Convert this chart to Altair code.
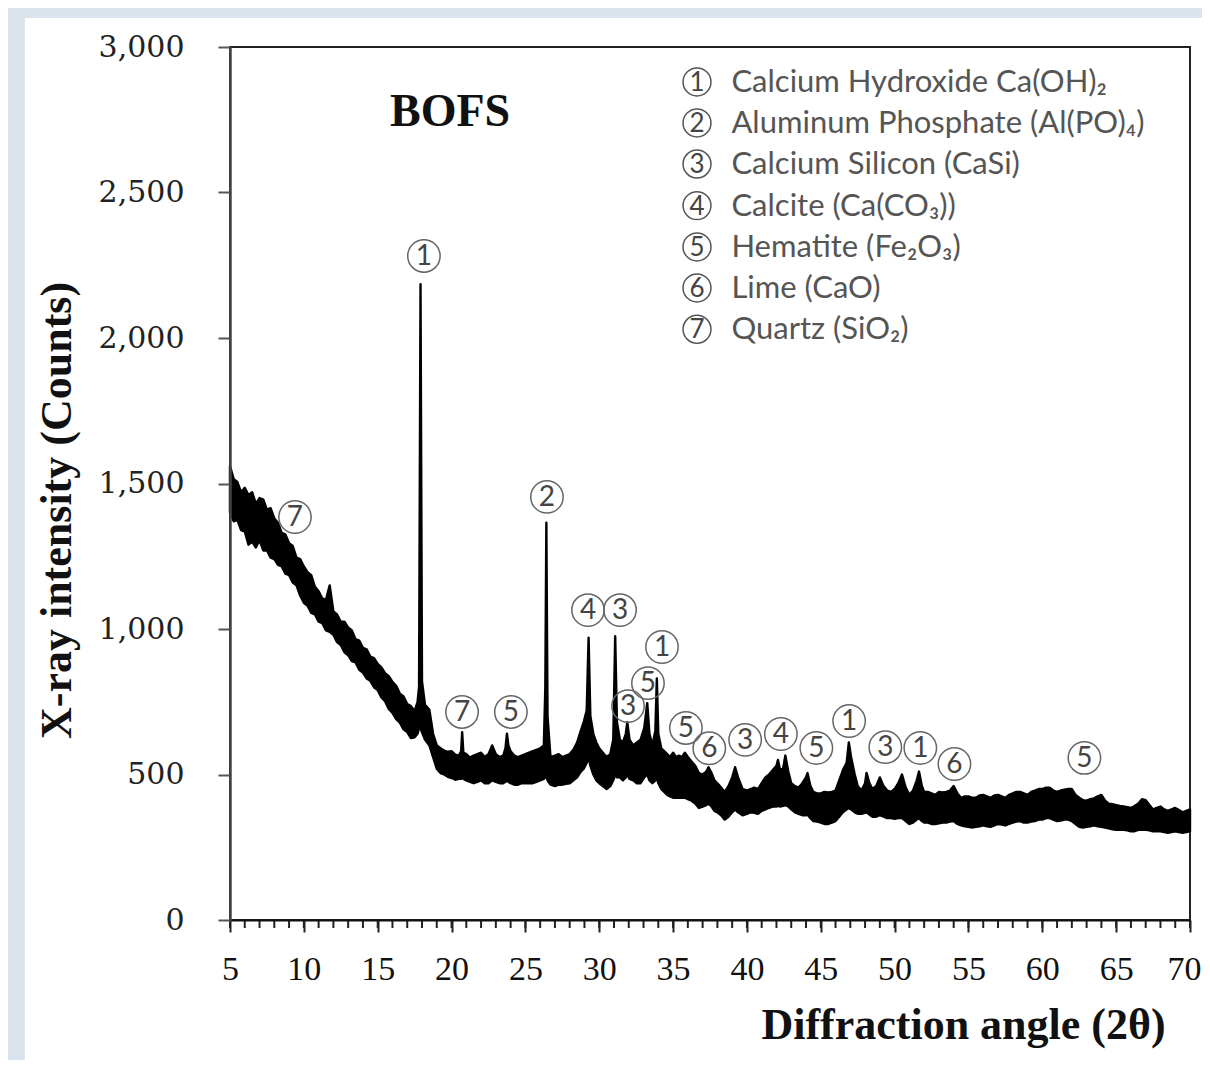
import altair as alt
import pandas as pd

# ---------------- spectrum (lower and upper edge of the noisy trace) ----------------
ANGLE = [
    5.00, 5.25, 5.50, 5.75, 6.00, 6.25, 6.50, 6.75, 7.00, 7.25, 7.50, 7.75, 8.00, 8.25, 8.50, 8.75, 9.00, 9.25, 9.50, 9.75,
    10.00, 10.25, 10.50, 10.75, 11.00, 11.25, 11.50, 11.75, 12.00, 12.25, 12.50, 12.75, 13.00, 13.25, 13.50, 13.75, 14.00, 14.25, 14.50, 14.75,
    15.00, 15.25, 15.50, 15.75, 16.00, 16.25, 16.50, 16.75, 17.00, 17.25, 17.50, 17.70, 17.80, 17.90, 18.00, 18.20, 18.50, 18.75, 19.00, 19.25, 19.50, 19.75,
    20.00, 20.25, 20.50, 20.65, 20.72, 20.80, 21.00, 21.25, 21.50, 21.75, 22.00, 22.25, 22.50, 22.75, 23.00, 23.25, 23.50, 23.65, 23.75, 23.85, 24.00, 24.25, 24.50, 24.75,
    25.00, 25.25, 25.50, 25.75, 26.00, 26.25, 26.35, 26.42, 26.50, 26.70, 27.00, 27.25, 27.50, 27.75, 28.00, 28.25, 28.50, 28.75, 28.95, 29.15, 29.28, 29.40, 29.60, 29.80,
    30.00, 30.25, 30.50, 30.75, 30.95, 31.08, 31.20, 31.40, 31.60, 31.80, 31.90, 32.05, 32.30, 32.55, 32.80, 33.05, 33.25, 33.40, 33.60, 33.80, 33.90, 34.00, 34.20, 34.40, 34.60, 34.80,
    35.00, 35.20, 35.40, 35.60, 35.80, 36.00, 36.25, 36.50, 36.75, 37.00, 37.25, 37.40, 37.60, 37.80, 38.00, 38.25, 38.50, 38.75, 39.00, 39.20, 39.40, 39.70,
    40.00, 40.25, 40.50, 40.75, 41.00, 41.25, 41.50, 41.75, 42.00, 42.10, 42.25, 42.45, 42.60, 42.80, 43.00, 43.25, 43.50, 43.75, 44.00, 44.10, 44.30, 44.50, 44.75,
    45.00, 45.25, 45.50, 45.75, 46.00, 46.25, 46.50, 46.75, 46.90, 47.05, 47.30, 47.50, 47.75, 48.00, 48.10, 48.30, 48.50, 48.75, 49.00, 49.25, 49.50, 49.75,
    50.00, 50.25, 50.50, 50.75, 51.00, 51.25, 51.50, 51.65, 51.85, 52.00, 52.25, 52.50, 52.75, 53.00, 53.25, 53.50, 53.75, 54.00, 54.25, 54.50, 54.75,
    55.00, 55.25, 55.50, 55.75, 56.00, 56.25, 56.50, 56.75, 57.00, 57.25, 57.50, 57.75, 58.00, 58.25, 58.50, 58.75, 59.00, 59.25, 59.50, 59.75,
    60.00, 60.25, 60.50, 60.75, 61.00, 61.25, 61.50, 61.75, 62.00, 62.25, 62.50, 62.75, 63.00, 63.25, 63.50, 63.75, 64.00, 64.25, 64.50, 64.75,
    65.00, 65.25, 65.50, 65.75, 66.00, 66.25, 66.50, 66.75, 67.00, 67.25, 67.50, 67.75, 68.00, 68.25, 68.50, 68.75, 69.00, 69.25, 69.50, 69.75, 70.00,
]
LOW = [
    1400, 1370, 1375, 1340, 1335, 1290, 1300, 1280, 1305, 1270, 1270, 1245, 1240, 1220, 1215, 1190, 1185, 1160, 1150, 1115,
    1090, 1080, 1055, 1050, 1025, 1020, 995, 990, 980, 955, 945, 920, 910, 890, 885, 860, 850, 830, 822, 800,
    790, 765, 752, 725, 712, 690, 678, 655, 646, 625, 628, 640, 660, 660, 645, 620, 600, 560, 520, 505, 500, 492,
    488, 482, 485, 485, 490, 485, 480, 475, 470, 475, 480, 470, 470, 480, 475, 470, 470, 475, 480, 475, 470, 465, 465, 470,
    470, 470, 470, 475, 480, 485, 490, 500, 480, 465, 460, 465, 465, 468, 470, 480, 490, 510, 520, 540, 560, 530, 500, 480,
    470, 460, 450, 460, 480, 500, 490, 490, 480, 490, 500, 485, 480, 470, 470, 490, 500, 480, 470, 480, 490, 470, 450, 440, 430, 425,
    420, 420, 420, 420, 420, 415, 410, 400, 385, 390, 395, 400, 390, 375, 370, 360, 345, 355, 370, 380, 370, 360,
    365, 370, 368, 365, 375, 380, 385, 390, 390, 392, 390, 392, 395, 390, 380, 370, 365, 360, 360, 362, 350, 340, 338,
    335, 330, 330, 335, 340, 355, 370, 380, 385, 380, 370, 365, 365, 368, 370, 362, 355, 355, 360, 355, 350, 350,
    348, 350, 350, 340, 330, 335, 345, 350, 340, 335, 335, 330, 330, 332, 335, 335, 338, 340, 330, 325, 322,
    320, 318, 320, 322, 325, 322, 320, 325, 330, 328, 325, 330, 335, 338, 340, 335, 335, 338, 340, 345,
    345, 350, 350, 345, 340, 342, 345, 345, 340, 330, 320, 318, 320, 322, 325, 322, 320, 318, 315, 312,
    310, 310, 310, 308, 305, 305, 310, 310, 310, 308, 305, 305, 305, 302, 300, 302, 305, 302, 300, 302, 305,
]
HIGH = [
    1560, 1515, 1505, 1470, 1485, 1460, 1470, 1430, 1450, 1445, 1410, 1415, 1380, 1365, 1330, 1325, 1295, 1285, 1245, 1240,
    1215, 1195, 1185, 1145, 1130, 1105, 1100, 1150, 1060, 1050, 1025, 1025, 1005, 995, 965, 960, 935, 930, 905, 900,
    880, 868, 848, 838, 818, 805, 778, 768, 742, 735, 718, 750, 800, 2185, 820, 740, 722, 640, 600, 590, 582, 578,
    580, 568, 565, 580, 645, 575, 570, 558, 565, 570, 575, 560, 570, 600, 570, 560, 565, 590, 640, 600, 580, 565, 560, 565,
    570, 575, 580, 585, 590, 600, 800, 1365, 700, 560, 565, 570, 560, 565, 570, 585, 610, 650, 680, 720, 970, 700, 640, 610,
    590, 575, 560, 570, 620, 975, 680, 620, 610, 640, 680, 620, 600, 610, 620, 660, 745, 640, 600, 650, 830, 640, 590, 580, 570, 560,
    575, 560, 565, 560, 575, 560, 545, 530, 505, 500, 510, 525, 505, 480, 470, 455, 440, 460, 490, 525, 490, 450,
    445, 450, 455, 450, 470, 490, 500, 515, 530, 550, 515, 520, 565, 510, 470, 460, 455, 470, 490, 505, 460, 440, 435,
    435, 440, 438, 440, 445, 480, 515, 540, 610, 560, 500, 460, 445, 470, 505, 470, 450, 460, 490, 460, 445, 440,
    450, 470, 500, 455, 430, 445, 480, 510, 460, 440, 440, 435, 430, 440, 438, 440, 445, 460, 435, 420, 425,
    425, 420, 420, 428, 430, 425, 420, 428, 430, 425, 420, 430, 435, 440, 440, 435, 430, 440, 445, 450,
    450, 455, 455, 445, 440, 445, 448, 450, 450, 430, 420, 412, 410, 415, 418, 425, 430, 410, 400, 398,
    395, 392, 390, 388, 385, 392, 400, 415, 412, 395, 380, 385, 390, 380, 375, 380, 385, 378, 370, 375, 380,
]

# ---------------- peak annotations (circled phase numbers) ----------------
ANNOT_LABEL = ["7", "1", "7", "5", "2", "4", "3", "1", "3", "5",
               "5", "6", "3", "4", "5", "1", "3", "1", "6", "5"]
ANNOT_X = [9.40, 18.13, 20.71, 24.02, 26.46, 29.24, 31.41, 34.25, 31.95, 33.30,
           35.87, 37.45, 39.88, 42.30, 44.70, 46.92, 49.37, 51.74, 54.05, 62.85]
ANNOT_Y = [1385, 2282, 715, 715, 1454, 1065, 1065, 938, 735, 814,
           660, 590, 619, 639, 591, 684, 594, 591, 536, 557]

# ---------------- phase legend ----------------
LEGEND_NUM = ["1", "2", "3", "4", "5", "6", "7"]
LEGEND_TEXT = [
    "Calcium Hydroxide Ca(OH)₂",
    "Aluminum Phosphate (Al(PO)₄)",
    "Calcium Silicon (CaSi)",
    "Calcite (Ca(CO₃))",
    "Hematite (Fe₂O₃)",
    "Lime (CaO)",
    "Quartz (SiO₂)",
]
LEGEND_Y = [2880, 2739, 2598, 2455, 2313, 2172, 2030]
LEGEND_CIRCLE_X = 36.62
LEGEND_TEXT_X = 38.95

X_TICKS = [5, 10, 15, 20, 25, 30, 35, 40, 45, 50, 55, 60, 65, 70]
Y_TICKS = [0, 500, 1000, 1500, 2000, 2500, 3000]
MINOR_TICKS = list(range(5, 71))

W, H = 960, 873

spectrum = pd.DataFrame({"angle": ANGLE, "low": LOW, "high": HIGH})
annots = pd.DataFrame({"x": ANNOT_X, "y": ANNOT_Y, "label": ANNOT_LABEL})
legend = pd.DataFrame({"y": LEGEND_Y, "num": LEGEND_NUM, "text": LEGEND_TEXT})
legend["cx"] = LEGEND_CIRCLE_X
legend["tx"] = LEGEND_TEXT_X
minor = pd.DataFrame({"t": MINOR_TICKS})
one = pd.DataFrame({"a": [0]})
title_df = pd.DataFrame({"x": [19.9], "y": [2777], "t": ["BOFS"]})

xs = alt.Scale(domain=[5, 70], nice=False, zero=False)
ys = alt.Scale(domain=[0, 3000], nice=False)

x_axis = alt.Axis(
    values=X_TICKS, title="Diffraction angle (2θ)", grid=False,
    labelFont="Liberation Serif", labelFontSize=34, labelColor="#111",
    labelPadding=20, labelFlush=False,
    labelOffset={"condition": {"test": "datum.value === 70", "value": -6}, "value": 0},
    tickSize=12, tickWidth=2, tickColor="#222",
    domainColor="#111", domainWidth=2,
    titleFont="Liberation Serif", titleFontSize=44, titleFontWeight="bold",
    titleColor="#111", titleX=733, titleY=105, titleAlign="center",
    titleBaseline="middle", zindex=1,
)
y_axis = alt.Axis(
    values=Y_TICKS, labelExpr="format(datum.value, ',')",
    title="X-ray intensity (Counts)", grid=False,
    labelFont="DejaVu Serif", labelFontSize=30, labelColor="#222",
    labelPadding=34, labelFlush=False,
    tickSize=12, tickWidth=2, tickColor="#555",
    domainColor="#444", domainWidth=2.5,
    titleFont="Liberation Serif", titleFontSize=44, titleFontWeight="bold",
    titleColor="#111", titleX=-173, titleY=463, titleAlign="center",
    titleBaseline="middle", zindex=1,
)


def X(field):
    return alt.X(field, type="quantitative", scale=xs, axis=x_axis)


def Y(field):
    return alt.Y(field, type="quantitative", scale=ys, axis=y_axis)


white = alt.Chart(one).mark_rect(color="white").encode(
    x=alt.value(-205), x2=alt.value(1100), y=alt.value(-29), y2=alt.value(1100)
)

frame = alt.Chart(one).mark_rect(fillOpacity=0, stroke="#222", strokeWidth=2).encode(
    x=alt.value(0), x2=alt.value(W), y=alt.value(0), y2=alt.value(H)
)

minor_ticks = alt.Chart(minor).mark_rule(color="#222", strokeWidth=2).encode(
    x=X("t"),
    y=alt.value(H), y2=alt.value(H + 8),
)

band = alt.Chart(spectrum).mark_area(
    color="black", stroke="black", strokeWidth=2.4, strokeJoin="round", opacity=1
).encode(
    x=X("angle"),
    y=Y("high"),
    y2="low:Q",
)

circles = alt.Chart(annots).mark_point(
    shape="circle", size=1050, filled=False, stroke="#666", strokeWidth=1.5, opacity=1
).encode(x=X("x"), y=Y("y"))

nums = alt.Chart(annots).mark_text(
    font="Lato", fontSize=28, color="#444", baseline="middle", align="center", dy=1
).encode(x=X("x"), y=Y("y"), text="label:N")

leg_circ = alt.Chart(legend).mark_point(
    shape="circle", size=780, filled=False, stroke="#555", strokeWidth=1.5, opacity=1
).encode(x=X("cx"), y=Y("y"))

leg_num = alt.Chart(legend).mark_text(
    font="Lato", fontSize=26, color="#444", baseline="middle", align="center", dy=1
).encode(x=X("cx"), y=Y("y"), text="num:N")

leg_text = alt.Chart(legend).mark_text(
    font="Lato", fontSize=31, color="#555", baseline="middle", align="left", dy=1
).encode(x=X("tx"), y=Y("y"), text="text:N")

bofs = alt.Chart(title_df).mark_text(
    font="Liberation Serif", fontSize=46, fontWeight="bold", color="#111",
    baseline="middle", align="center"
).encode(x=X("x"), y=Y("y"), text="t:N")

chart = alt.layer(
    white, frame, minor_ticks, band, circles, nums, leg_circ, leg_num, leg_text, bofs
).properties(
    width=W, height=H,
    autosize=alt.AutoSizeParams(type="none"),
    padding={"left": 222, "top": 39, "right": 12, "bottom": 140},
    background="#dbe4ec",
).configure_view(stroke=None)

chart.save("out.html", embed_options={"renderer": "svg", "actions": False})
